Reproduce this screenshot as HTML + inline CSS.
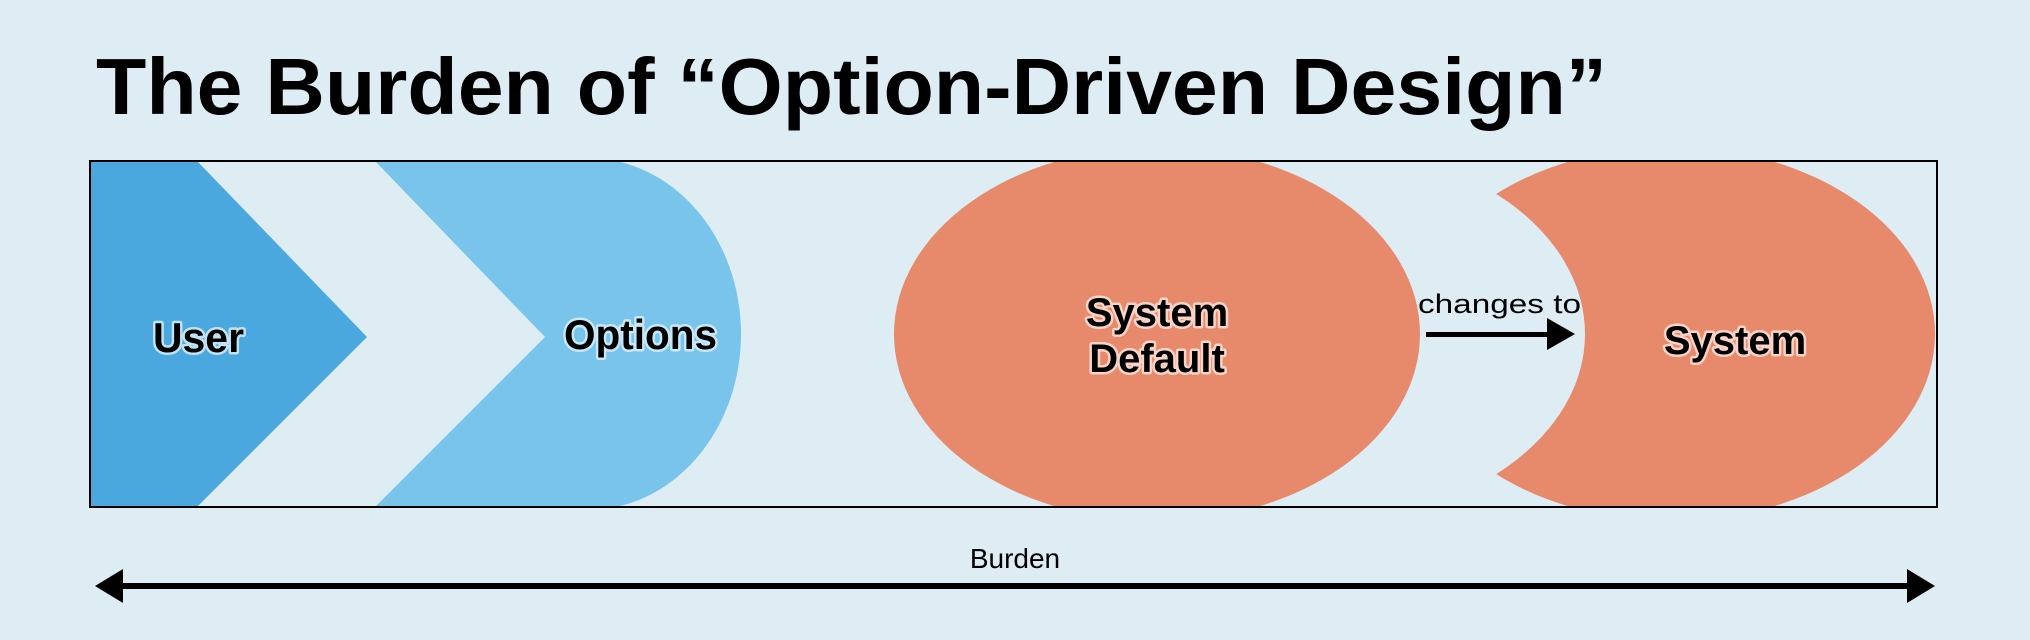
<!DOCTYPE html>
<html><head><meta charset="utf-8"><style>
html,body{margin:0;padding:0;background:#deecf3;}
svg{display:block;}
.lbl{font-family:"Liberation Sans",sans-serif;font-weight:bold;fill:#000;paint-order:stroke;stroke-width:5px;stroke-linejoin:round;}
</style></head><body>
<svg width="2030" height="640" viewBox="0 0 2030 640" xmlns="http://www.w3.org/2000/svg">
<defs>
<clipPath id="boxclip"><rect x="90" y="161" width="1847" height="346"/></clipPath>
<clipPath id="righthalf"><rect x="588" y="150" width="300" height="370"/></clipPath>
<mask id="crescent"><rect x="0" y="0" width="2030" height="640" fill="#fff"/><ellipse cx="1322" cy="334" rx="263" ry="187" fill="#000"/></mask>
</defs>
<rect width="2030" height="640" fill="#deecf3"/>
<text x="96" y="114" font-family="Liberation Sans, sans-serif" font-weight="bold" font-size="80" textLength="1511" lengthAdjust="spacingAndGlyphs" fill="#000">The Burden of “Option-Driven Design”</text>
<g clip-path="url(#boxclip)">
<polygon points="90,161 197,161 367,337 197,507 90,507" fill="#4aa8de"/>
<g fill="#78c4ea">
<polygon points="375,161 589,161 589,507 375,507 545,337"/>
<ellipse cx="588" cy="334" rx="153" ry="176" clip-path="url(#righthalf)"/>
</g>
<ellipse cx="1157" cy="334" rx="263" ry="187" fill="#e7896b"/>
<ellipse cx="1671" cy="334" rx="264" ry="187" fill="#e7896b" mask="url(#crescent)"/>
</g>
<rect x="90" y="161" width="1847" height="346" fill="none" stroke="#000" stroke-width="2"/>
<text class="lbl" x="153" y="352" font-size="42" textLength="91" lengthAdjust="spacingAndGlyphs" stroke="#bfe3f5">User</text>
<text class="lbl" x="564" y="349" font-size="42" textLength="153" lengthAdjust="spacingAndGlyphs" stroke="#c8e8f8">Options</text>
<text class="lbl" x="1157" y="326" text-anchor="middle" font-size="40" stroke="#f8d3c6">System</text>
<text class="lbl" x="1157" y="372" text-anchor="middle" font-size="40" stroke="#f8d3c6">Default</text>
<text class="lbl" x="1735" y="354" text-anchor="middle" font-size="40" stroke="#f8d3c6">System</text>
<text x="1418" y="313" font-family="Liberation Sans, sans-serif" font-size="27" textLength="163" lengthAdjust="spacingAndGlyphs" fill="#000">changes to</text>
<g>
<rect x="1426" y="332" width="125" height="5" fill="#000"/>
<polygon points="1547,318 1575,334 1547,350" fill="#000"/>
</g>
<text x="1015" y="568" text-anchor="middle" font-family="Liberation Sans, sans-serif" font-size="28" fill="#000">Burden</text>
<g>
<rect x="118" y="583" width="1794" height="6" fill="#000"/>
<polygon points="95,586 123,569 123,603" fill="#000"/>
<polygon points="1935,586 1907,569 1907,603" fill="#000"/>
</g>
</svg>
</body></html>
